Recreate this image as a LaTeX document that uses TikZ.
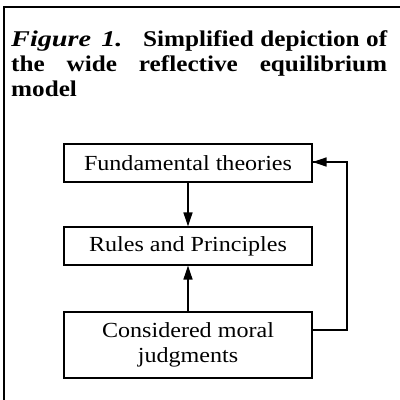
\documentclass[tikz,border=0pt]{standalone}
\usepackage{fontspec}
\usepackage{graphicx}
\setmainfont{Liberation Serif}[FakeStretch=1.12]
\usetikzlibrary{arrows.meta}
\begin{document}
\begin{tikzpicture}[x=1pt,y=-1pt,
  boxnode/.style={draw, line width=1.1pt, minimum width=248pt, inner sep=0pt,
    font=\fontsize{21.5}{24.5}\selectfont, align=center},
  conn/.style={line width=1.4pt, -{Triangle[length=14pt,width=9pt]}},
  titleline/.style={anchor=base west, inner sep=0pt, font=\fontsize{22.5}{25}\selectfont\bfseries}]
\useasboundingbox (0,0) rectangle (400,400);
\fill[white] (0,0) rectangle (400,400);
% frame
\draw[line width=1.5pt] (400,7) -- (4,7) -- (4,400);
% title
\node[titleline] (t1) at (11,46) {\makebox[376pt][s]{\makebox[132pt][l]{\scalebox{1.12}[1]{\textit{Figure\hspace{0.4em}1.}}}Simplified depiction of}};
\node[titleline] (t2) at (11,71) {\makebox[376pt][s]{the wide reflective equilibrium}};
\node[titleline] (t3) at (11,96) {model};
% boxes
\node[boxnode, minimum height=38pt] (b1) at (188,163) {Fundamental theories};
\node[boxnode, minimum height=38pt] (b2) at (188,246) {Rules and Principles};
\node[boxnode, minimum height=66pt] (b3) at (188,345) {Considered moral\\judgments};
% connectors
\draw[conn] (b1.south) -- (b2.north);
\draw[conn] (b3.north) -- (b2.south);
\coordinate (f1) at (347,330);
\coordinate (f2) at (347,162);
\draw[line width=1.1pt] (b3.east |- f1) -- (f1) -- (f2) -- (b1.east |- f2);
\draw[conn] (f2) -- (b1.east |- f2);
\end{tikzpicture}
\end{document}
